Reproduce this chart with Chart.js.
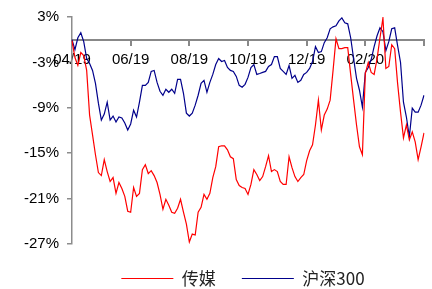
<!DOCTYPE html>
<html>
<head>
<meta charset="utf-8">
<script src="https://cdn.jsdelivr.net/npm/chart.js@4"></script>
<style>
  html, body { margin: 0; padding: 0; background: #fff; }
  #wrap { width: 432px; height: 289px; }
</style>
</head>
<body>
<div id="wrap"><canvas id="chart"></canvas></div>
<script>
// sampled trading days, 04/2019 - 04/2020, one point every ~2 trading days
var days = [];
for (var i = 0; i <= 120; i++) days.push(i);

var tickLabels = ['04/19', '06/19', '08/19', '10/19', '12/19', '02/20', ''];

var media = [
  -0.13, -2.36, -3.41, -1.70, -2.10, -4.06, -9.96, -12.58, -15.20, -17.56,
  -17.96, -15.86, -17.43, -18.74, -18.22, -20.31, -18.87, -19.66, -20.71, -22.67,
  -22.80, -19.53, -20.71, -20.31, -17.17, -16.51, -17.69, -17.30, -17.96, -18.87,
  -20.45, -22.41, -21.10, -21.89, -22.80, -22.94, -22.28, -21.10, -22.80, -24.38,
  -26.74, -25.69, -25.82, -22.80, -22.15, -20.45, -21.10, -20.31, -18.22, -16.78,
  -14.15, -14.02, -14.02, -14.55, -15.47, -15.73, -18.48, -19.27, -19.53, -19.66,
  -20.45, -19.13, -17.17, -17.82, -18.61, -18.09, -16.78, -15.33, -17.43, -17.17,
  -17.43, -18.74, -19.13, -19.13, -15.47, -16.91, -18.09, -18.74, -18.22, -17.82,
  -15.99, -14.68, -13.89, -11.27, -7.99, -11.93, -9.96, -9.17, -7.99, -4.06,
  0.13, -1.18, -1.18, -1.05, -1.05, -4.59, -7.99, -11.27, -14.15, -15.20,
  -4.46, -3.01, -4.32, -4.59, -2.49, 0.26, 2.88, -3.80, -3.54, -0.66,
  -1.18, -5.77, -9.57, -12.97, -11.27, -13.24, -12.19, -13.50, -15.86, -14.15,
  -12.32
];

var hs300 = [
  0.00, -1.31, 0.26, 0.92, -0.26, -2.49, -3.15, -4.06, -5.77, -8.39,
  -10.62, -9.83, -8.26, -10.62, -10.09, -10.88, -10.22, -10.35, -11.01, -11.93,
  -11.14, -9.31, -10.22, -8.26, -6.03, -6.03, -5.64, -4.19, -4.06, -5.64,
  -6.82, -7.34, -6.55, -6.95, -6.55, -7.08, -5.24, -5.24, -7.08, -9.70,
  -10.09, -9.70, -8.65, -7.34, -5.77, -5.37, -6.95, -5.64, -4.59, -3.28,
  -2.49, -2.88, -2.75, -3.67, -4.06, -4.19, -4.85, -6.03, -6.29, -5.90,
  -4.98, -3.67, -3.28, -4.59, -4.46, -4.32, -4.19, -3.54, -3.28, -2.23,
  -2.23, -3.80, -4.19, -4.59, -3.41, -5.11, -4.72, -5.64, -5.37, -4.59,
  -4.32, -3.80, -2.88, -0.92, -1.70, -1.57, -0.39, 0.26, 1.44, 1.70,
  1.83, 2.49, 2.88, 2.23, 2.10, 0.26, -2.49, -5.11, -6.68, -8.91,
  -4.32, -3.67, -2.62, -0.92, 0.52, 1.57, 1.05, -1.44, -0.26, 1.44,
  1.57, -0.79, -3.01, -8.26, -10.22, -12.84, -9.04, -9.57, -9.57, -8.65,
  -7.34
];

var axisGray = '#8c8c8c';

// move the legend so it is centred under the plot area instead of the canvas
var legendShift = {
  id: 'legendShift',
  afterLayout: function (c) {
    var dx = (c.chartArea.left + c.chartArea.right) / 2 - (c.legend.left + c.legend.right) / 2 - 5;
    c.legend.left += dx;
    c.legend.right += dx;
  }
};

var chart = new Chart('chart', {
  type: 'line',
  data: {
    labels: days,
    datasets: [
      {
        label: '传媒',
        data: media,
        borderColor: '#ff0000',
        backgroundColor: '#ff0000',
        borderWidth: 1.2,
        pointRadius: 0,
        tension: 0
      },
      {
        label: '沪深300',
        data: hs300,
        borderColor: '#00008b',
        backgroundColor: '#00008b',
        borderWidth: 1.2,
        pointRadius: 0,
        tension: 0
      }
    ]
  },
  plugins: [legendShift],
  options: {
    responsive: true,
    maintainAspectRatio: false,
    animation: false,
    layout: {
      padding: { top: 7, right: 8, left: 0, bottom: -8 }
    },
    plugins: {
      tooltip: { enabled: false },
      legend: {
        position: 'bottom',
        labels: {
          usePointStyle: true,
          pointStyle: 'line',
          pointStyleWidth: 52,
          color: '#222',
          padding: 26,
          font: { family: '"Noto Sans CJK SC", "Liberation Sans", sans-serif', size: 17 }
        }
      }
    },
    scales: {
      x: {
        type: 'category',
        position: { y: 0 },
        afterBuildTicks: function (scale) {
          scale.ticks = scale.ticks.filter(function (t) { return t.value % 20 === 0; });
        },
        ticks: {
          autoSkip: false,
          maxRotation: 0,
          padding: 6,
          color: '#000',
          font: { family: '"Liberation Sans", Arial, sans-serif', size: 15 },
          callback: function (value) {
            return tickLabels[value / 20];
          }
        },
        grid: {
          drawOnChartArea: false,
          color: '#888888',
          tickLength: 5,
          lineWidth: 2
        },
        border: { display: true, color: '#888888', width: 2 }
      },
      y: {
        min: -27,
        max: 3,
        afterFit: function (scale) { scale.width = 72; },
        afterBuildTicks: function (scale) {
          // extra unlabelled tick so the zero line is drawn across the plot
          scale.ticks.push({ value: 0 });
        },
        ticks: {
          stepSize: 6,
          padding: 8,
          color: '#000',
          font: { family: '"Liberation Sans", Arial, sans-serif', size: 15 },
          callback: function (v) { return v === 0 ? '' : v + '%'; }
        },
        grid: {
          drawOnChartArea: true,
          color: function (ctx) { return ctx.tick && ctx.tick.value === 0 ? axisGray : 'rgba(0,0,0,0)'; },
          tickColor: function (ctx) { return ctx.tick && ctx.tick.value === 0 ? 'rgba(0,0,0,0)' : axisGray; },
          tickLength: 5,
          lineWidth: 1.5
        },
        border: { color: axisGray, width: 1.5 }
      }
    }
  }
});
</script>
</body>
</html>
